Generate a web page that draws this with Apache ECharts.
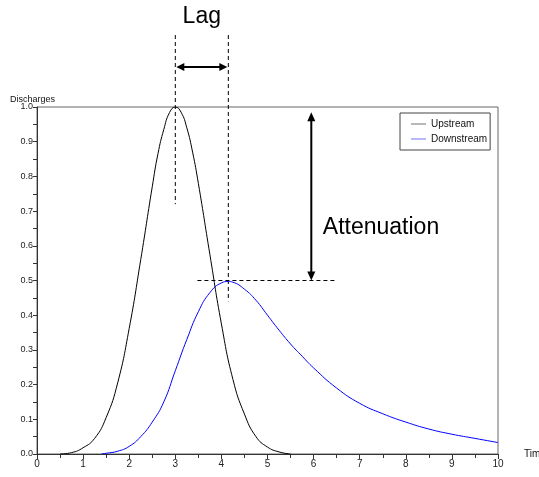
<!DOCTYPE html>
<html>
<head>
<meta charset="utf-8">
<script src="https://cdn.jsdelivr.net/npm/echarts@6/dist/echarts.min.js"></script>
<style>html,body{margin:0;padding:0;background:#fff}#c{width:539px;height:477px}</style>
</head>
<body>
<div id="c"></div>
<script>
// Upstream hydrograph (time, discharge)
var upstreamX = [0.5,0.75,1.0,1.25,1.5,1.75,2.0,2.25,2.5,2.625,2.75,2.875,3.0,3.125,3.25,3.375,3.5,3.75,4.0,4.25,4.5,4.75,5.0,5.25,5.5];
var upstreamY = [0.0,0.004,0.018,0.045,0.105,0.205,0.362,0.56,0.77,0.866,0.935,0.984,1.0,0.985,0.94,0.87,0.78,0.575,0.375,0.215,0.115,0.05,0.02,0.006,0.0];
// Downstream hydrograph
var downstreamX = [1.4,1.5,1.75,2.0,2.25,2.5,2.75,3.0,3.25,3.5,3.75,4.0,4.15,4.25,4.5,4.75,5.0,5.25,5.5,5.75,6.0,6.5,7.0,7.5,8.0,8.5,9.0,9.5,10.0];
var downstreamY = [0.0,0.002,0.008,0.022,0.05,0.092,0.15,0.24,0.33,0.41,0.465,0.493,0.497,0.495,0.475,0.443,0.4,0.357,0.317,0.282,0.248,0.19,0.146,0.116,0.092,0.072,0.057,0.045,0.033];
var seriesNames = ['Upstream','Downstream'];
var xTitle = 'Time';
var yTitle = 'Discharges';
var lagText = 'Lag';
var attText = 'Attenuation';
// annotation anchors (data coordinates)
var lagStart = 3.0, lagEnd = 4.15, upPeak = 1.0, downPeak = 0.5;

function pairs(xs, ys){ return xs.map(function(x,i){return [x, ys[i]];}); }

var chart = echarts.init(document.getElementById('c'), null, {renderer:'canvas'});
var font = 'Liberation Sans, Arial, sans-serif';
chart.setOption({
  animation:false,
  textStyle:{fontFamily:font},
  grid:{left:37, right:41, top:107, bottom:23, show:true, borderColor:'#666', borderWidth:1,
    containLabel:false, outerBoundsMode:'none'},
  xAxis:{type:'value', min:0, max:10, interval:1,
    name:xTitle, nameLocation:'end', nameGap:26, nameTextStyle:{fontSize:10, color:'#111', verticalAlign:'middle'},
    axisLine:{onZero:false, lineStyle:{color:'#333', width:1}},
    axisTick:{show:true, inside:false, length:5, lineStyle:{color:'#333'}},
    minorTick:{show:true, splitNumber:2, length:4, lineStyle:{color:'#333'}},
    axisLabel:{fontSize:10, color:'#222', margin:5},
    splitLine:{show:false}},
  yAxis:{type:'value', min:0, max:1, interval:0.1,
    axisLine:{show:true, lineStyle:{color:'#333', width:1}},
    axisTick:{show:true, length:4, lineStyle:{color:'#333'}},
    minorTick:{show:true, splitNumber:2, length:4, lineStyle:{color:'#333'}},
    axisLabel:{fontSize:9, color:'#222', margin:4, formatter:function(v){return v.toFixed(1);}},
    splitLine:{show:false}},
  legend:{orient:'vertical', left:400, top:113, itemWidth:15, itemHeight:8, itemGap:5,
    padding:[6,3,6,11], borderColor:'#444', borderWidth:1, backgroundColor:'#fff',
    textStyle:{fontSize:10, color:'#111'}, data:[
      {name:seriesNames[0], icon:'path://M0,0 L18,0 L18,1 L0,1 Z'},
      {name:seriesNames[1], icon:'path://M0,0 L18,0 L18,1 L0,1 Z'}]},
  series:[
    {name:seriesNames[0], type:'line', data:pairs(upstreamX, upstreamY), smooth:true, symbol:'none',
      lineStyle:{color:'#000', width:1}, itemStyle:{color:'#555'}},
    {name:seriesNames[1], type:'line', data:pairs(downstreamX, downstreamY), smooth:true, symbol:'none',
      lineStyle:{color:'#0000ff', width:1}, itemStyle:{color:'#5555ff'}}
  ]
});

function P(x,y){ return chart.convertToPixel({gridIndex:0}, [x,y]); }
var dash = {stroke:'#000', lineWidth:1, lineDash:[4,3]};
var a = P(lagStart, upPeak), b = P(lagEnd, downPeak);
var lowA = P(lagStart, 0.72), lowB = P(lagEnd, 0.44);
var topY = 35, arrowY = 67;
var hs = P(3.48, downPeak), he = P(6.5, downPeak);
var vt = P(5.95, 0.985), vb = P(5.95, downPeak);
var attPos = P(6.2, 0.65);
function tri(x1,y1,x2,y2,x3,y3){ return {type:'polygon', shape:{points:[[x1,y1],[x2,y2],[x3,y3]]}, style:{fill:'#000'}}; }
var g = [
  {type:'line', shape:{x1:a[0], y1:topY, x2:a[0], y2:lowA[1]}, style:dash},
  {type:'line', shape:{x1:b[0], y1:topY, x2:b[0], y2:lowB[1]}, style:dash},
  {type:'line', shape:{x1:a[0]+6, y1:arrowY, x2:b[0]-6, y2:arrowY}, style:{stroke:'#000', lineWidth:2}},
  tri(a[0]+1, arrowY, a[0]+9, arrowY-4, a[0]+9, arrowY+4),
  tri(b[0]-1, arrowY, b[0]-9, arrowY-4, b[0]-9, arrowY+4),
  {type:'text', x:(a[0]+b[0])/2, y:17, style:{text:lagText, font:'23px '+font, fill:'#000', align:'center', verticalAlign:'middle'}},
  {type:'line', shape:{x1:hs[0], y1:hs[1], x2:he[0], y2:he[1]}, style:dash},
  {type:'line', shape:{x1:vt[0], y1:vt[1]+6, x2:vb[0], y2:vb[1]-6}, style:{stroke:'#000', lineWidth:2}},
  tri(vt[0], vt[1], vt[0]-4, vt[1]+9, vt[0]+4, vt[1]+9),
  tri(vb[0], vb[1], vb[0]-4, vb[1]-9, vb[0]+4, vb[1]-9),
  {type:'text', x:attPos[0], y:228, style:{text:attText, font:'23px '+font, fill:'#000', align:'left', verticalAlign:'middle'}},
  {type:'text', x:10, y:100, style:{text:yTitle, font:'9px '+font, fill:'#111', align:'left', verticalAlign:'middle'}}
];
chart.setOption({graphic:g});
</script>
</body>
</html>
